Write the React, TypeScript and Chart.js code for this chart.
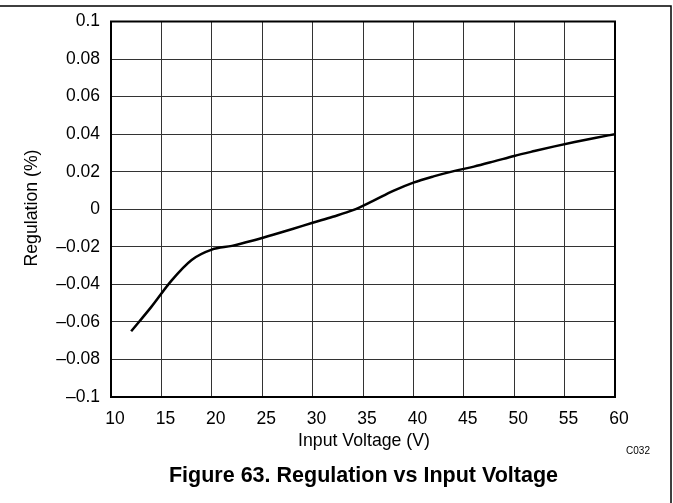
import React, { useEffect, useRef } from "react";
import { Chart, registerables } from "chart.js";

Chart.register(...registerables);

const voltages = [12, 14, 16, 18, 20, 22, 24, 26, 28, 30, 32, 34, 36, 38, 40, 42, 44, 46, 48, 50, 52, 54, 56, 58, 60];
const regulation = [-0.065, -0.052, -0.038, -0.027, -0.0215, -0.0195, -0.0168, -0.0137, -0.0105, -0.0072, -0.004, -0.0005, 0.0045, 0.0098, 0.0142, 0.0175, 0.0203, 0.0227, 0.0255, 0.0284, 0.031, 0.0335, 0.0358, 0.038, 0.04];
const xTickValues = [10, 15, 20, 25, 30, 35, 40, 45, 50, 55, 60];
const yTickValues = [-0.1, -0.08, -0.06, -0.04, -0.02, 0, 0.02, 0.04, 0.06, 0.08, 0.1];
const yTickLabels = ["–0.1", "–0.08", "–0.06", "–0.04", "–0.02", "0", "0.02", "0.04", "0.06", "0.08", "0.1"];
const xTitle = "Input Voltage (V)";
const yTitle = "Regulation (%)";
const caption = "Figure 63. Regulation vs Input Voltage";
const codeLabel = "C032";

const FONT = "'Liberation Sans', Arial, Helvetica, sans-serif";

export default function App() {
  const ref = useRef<HTMLCanvasElement>(null);
  useEffect(() => {
    if (!ref.current) return;
    const decor = {
      id: "decor",
      afterDraw(chart: any) {
        const ctx = chart.ctx;
        const a = chart.chartArea;
        ctx.save();
        // plot border
        ctx.strokeStyle = "#000";
        ctx.lineWidth = 2;
        ctx.strokeRect(a.left, a.top, a.right - a.left, a.bottom - a.top);
        // outer frame
        ctx.lineWidth = 1.5;
        ctx.beginPath();
        ctx.moveTo(0, 6);
        ctx.lineTo(671, 6);
        ctx.lineTo(671, 503);
        ctx.stroke();
        // titles
        ctx.fillStyle = "#000";
        ctx.textBaseline = "alphabetic";
        ctx.textAlign = "center";
        ctx.font = `17.7px ${FONT}`;
        ctx.fillText(xTitle, 364, 445.5);
        ctx.save();
        ctx.translate(36.5, 208);
        ctx.rotate(-Math.PI / 2);
        ctx.fillText(yTitle, 0, 0);
        ctx.restore();
        ctx.font = `10px ${FONT}`;
        ctx.fillText(codeLabel, 638, 454);
        ctx.font = `bold 21.5px ${FONT}`;
        ctx.fillText(caption, 363.5, 482);
        ctx.restore();
      },
    };
    const chart = new Chart(ref.current, {
      type: "line",
      data: {
        datasets: [
          {
            data: voltages.map((v, i) => ({ x: v, y: regulation[i] })),
            borderColor: "#000",
            borderWidth: 2.5,
            pointRadius: 0,
            cubicInterpolationMode: "monotone",
            fill: false,
          },
        ],
      },
      options: {
        responsive: false,
        animation: false,
        layout: { padding: { left: 0, right: 58, top: 20, bottom: 0 } },
        plugins: { legend: { display: false }, tooltip: { enabled: false } },
        scales: {
          x: {
            type: "linear",
            min: 10,
            max: 60,
            afterFit: (s: any) => { s.height = 106; },
            afterBuildTicks: (s: any) => { s.ticks = xTickValues.map((v) => ({ value: v })); },
            ticks: {
              color: "#000",
              font: { family: FONT, size: 17.5 },
              padding: 12,
              labelOffset: 4,
              maxRotation: 0,
              autoSkip: false,
              callback: (v: any) => String(v),
            },
            grid: { color: "#333", lineWidth: 1, drawTicks: false },
            border: { display: false },
          },
          y: {
            type: "linear",
            min: -0.1,
            max: 0.1,
            afterFit: (s: any) => { s.width = 111; },
            afterBuildTicks: (s: any) => { s.ticks = yTickValues.map((v) => ({ value: v })); },
            ticks: {
              color: "#000",
              font: { family: FONT, size: 17.5 },
              padding: 11,
              autoSkip: false,
              callback: (v: any) => {
                const i = yTickValues.findIndex((t) => Math.abs(t - v) < 1e-9);
                return i >= 0 ? yTickLabels[i] : "";
              },
            },
            grid: { color: "#333", lineWidth: 1, drawTicks: false },
            border: { display: false },
          },
        },
      },
      plugins: [decor],
    } as any);
    return () => chart.destroy();
  }, []);
  return (
    <div style={{ position: "absolute", left: 0, top: 0 }}>
      <canvas ref={ref} width={673} height={503} style={{ display: "block", width: 673, height: 503 }} />
    </div>
  );
}
